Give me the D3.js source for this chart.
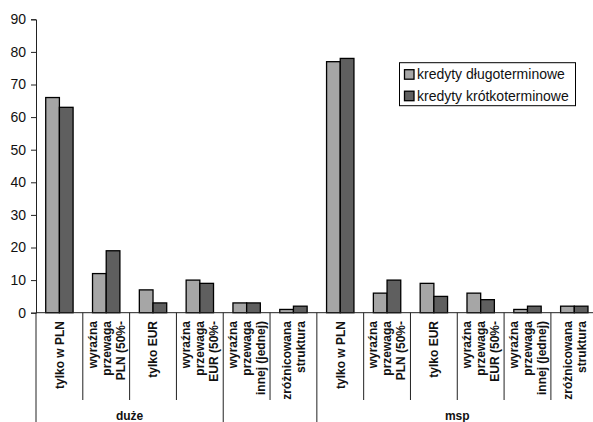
<!DOCTYPE html>
<html>
<head>
<meta charset="utf-8">
<script src="https://cdn.jsdelivr.net/npm/d3@7"></script>
<style>
  html, body { margin: 0; padding: 0; background: #fff; }
  svg { display: block; font-family: "Liberation Sans", Arial, sans-serif; }
</style>
</head>
<body>
<svg id="chart" width="593" height="422"></svg>
<script>
// Category labels (wrapped lines) along the x axis
const categories = [
  ["tylko w PLN"],
  ["wyraźna", "przewaga", "PLN (50%-"],
  ["tylko EUR"],
  ["wyraźna", "przewaga", "EUR (50%-"],
  ["wyraźna", "przewaga", "innej (jednej)"],
  ["zróżnicowana", "struktura"],
  ["tylko w PLN"],
  ["wyraźna", "przewaga", "PLN (50%-"],
  ["tylko EUR"],
  ["wyraźna", "przewaga", "EUR (50%-"],
  ["wyraźna", "przewaga", "innej (jednej)"],
  ["zróżnicowana", "struktura"]
];
// Outer grouping of the categories
const groupLabels = ["duże", "", "msp"];
const groupSizes = [4, 2, 6];

const seriesNames = ["kredyty długoterminowe", "kredyty krótkoterminowe"];
const longTerm  = [66, 12, 7, 10, 3, 1, 77, 6, 9, 6, 1, 2];
const shortTerm = [63, 19, 3, 9, 3, 2, 78, 10, 5, 4, 2, 2];
const yTicks = [0, 10, 20, 30, 40, 50, 60, 70, 80, 90];

const colors = ["#a6a6a6", "#5f5f5f"];
const seriesValues = [longTerm, shortTerm];

const svg = d3.select("#chart");
const plotLeft = 36, plotRight = 597.7, plotTop = 19.3, plotBottom = 312.7;

const x0 = d3.scaleBand().domain(d3.range(categories.length)).range([plotLeft, plotRight]).padding(0);
const x1 = d3.scaleBand().domain(d3.range(seriesNames.length)).range([0, x0.bandwidth()])
  .paddingInner(0).paddingOuter(0.71);
const y = d3.scaleLinear().domain([0, 90]).range([plotBottom, plotTop]);

// Bars
const groups = svg.append("g").selectAll("g")
  .data(categories.map((c, i) => i))
  .join("g")
  .attr("transform", i => `translate(${x0(i)},0)`);

groups.selectAll("rect")
  .data(i => seriesValues.map((vals, s) => ({ s, v: vals[i] })))
  .join("rect")
  .attr("x", d => x1(d.s))
  .attr("y", d => y(d.v))
  .attr("width", x1.bandwidth())
  .attr("height", d => y(0) - y(d.v))
  .attr("fill", d => colors[d.s])
  .attr("stroke", "#000")
  .attr("stroke-width", 1.3);

// Y axis
const yAxis = d3.axisLeft(y).tickValues(yTicks).tickSize(5).tickPadding(5);
const ya = svg.append("g").attr("transform", `translate(${plotLeft},0)`).call(yAxis);
ya.select(".domain").attr("stroke", "#222");
ya.selectAll(".tick line").attr("stroke", "#222");
ya.selectAll(".tick text").attr("font-size", 14).attr("fill", "#111")
  .attr("font-family", "Liberation Sans, Arial, sans-serif");

// X axis baseline
svg.append("line").attr("x1", plotLeft).attr("x2", plotRight).attr("y1", y(0)).attr("y2", y(0))
  .attr("stroke", "#222").attr("stroke-width", 1);

// Category separators
const groupEdges = [0];
groupSizes.forEach(n => groupEdges.push(groupEdges[groupEdges.length - 1] + n));
const edgeX = i => (i < categories.length ? x0(i) : plotRight);
svg.append("g").selectAll("line")
  .data(d3.range(categories.length + 1))
  .join("line")
  .attr("x1", i => edgeX(i)).attr("x2", i => edgeX(i))
  .attr("y1", y(0))
  .attr("y2", i => groupEdges.includes(i) ? 422 : 400)
  .attr("stroke", "#222").attr("stroke-width", 1);

// Category labels, rotated
const lineGap = 14;
const catG = svg.append("g");
categories.forEach((lines, i) => {
  const cx = x0(i) + x0.bandwidth() / 2;
  lines.forEach((t, k) => {
    const lx = cx + (k - (lines.length - 1) / 2) * lineGap;
    catG.append("text")
      .attr("transform", `translate(${lx},321) rotate(-90)`)
      .attr("text-anchor", "end")
      .attr("dy", "0.36em")
      .attr("font-size", 12)
      .attr("font-weight", "bold")
      .attr("fill", "#111")
      .text(t);
  });
});

// Group labels
groupLabels.forEach((g, gi) => {
  if (!g) return;
  const a = edgeX(groupEdges[gi]), b = edgeX(groupEdges[gi + 1]);
  svg.append("text")
    .attr("x", (a + b) / 2).attr("y", 420)
    .attr("text-anchor", "middle")
    .attr("font-size", 12)
    .attr("font-weight", "bold")
    .attr("fill", "#111")
    .text(g);
});

// Legend
const lg = svg.append("g").attr("transform", "translate(399.5,62.7)");
lg.append("rect").attr("width", 176).attr("height", 43)
  .attr("fill", "#fff").attr("stroke", "#000").attr("stroke-width", 1);
seriesNames.forEach((name, s) => {
  const cy = 11.5 + s * 21.5;
  lg.append("rect").attr("x", 5).attr("y", cy - 4.5).attr("width", 9.5).attr("height", 9.5)
    .attr("fill", colors[s]).attr("stroke", "#000").attr("stroke-width", 1.3);
  lg.append("text").attr("x", 17.5).attr("y", cy).attr("dy", "0.36em")
    .attr("font-size", 14).attr("fill", "#111").text(name);
});
</script>
</body>
</html>
